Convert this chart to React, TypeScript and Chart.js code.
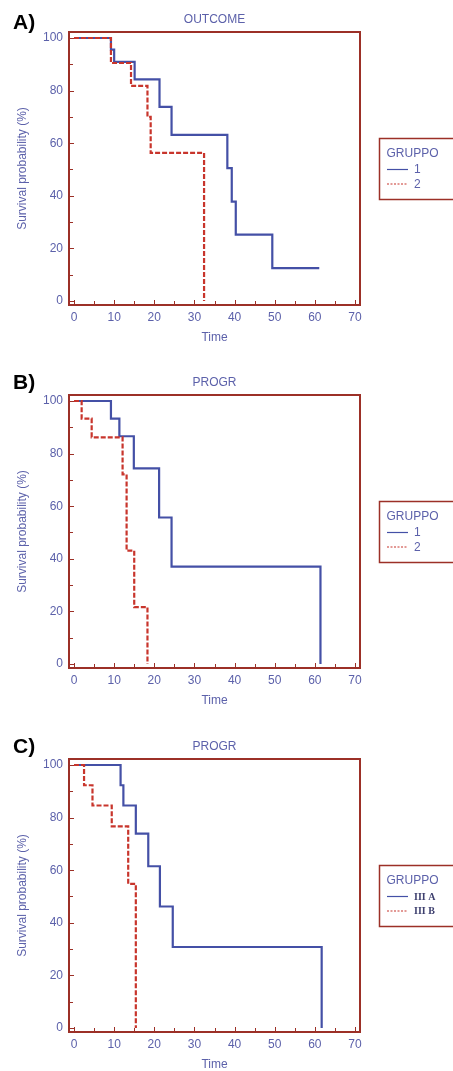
import React, { useEffect, useRef } from "react";
import { Chart, registerables } from "chart.js";

Chart.register(...registerables);

// ---------- data ----------
const panelLetters = ["A)", "B)", "C)"];
const panelTitles = ["OUTCOME", "PROGR", "PROGR"];
const legendTitle = "GRUPPO";
const legendLabelsAB = ["1", "2"];
const legendLabelsC = ["III A", "III B"];
const xAxisTitle = "Time";
const yAxisTitle = "Survival probability (%)";

const xTicks = [0, 10, 20, 30, 40, 50, 60, 70];
const xMinorTicks = [5, 15, 25, 35, 45, 55, 65];
const yTicks = [0, 20, 40, 60, 80, 100];
const yMinorTicks = [10, 30, 50, 70, 90];

// Panel A (OUTCOME)
const aTime1 = [0, 9.2, 10.0, 15.1, 21.3, 24.3, 38.2, 39.3, 40.3, 49.4, 61.1];
const aSurv1 = [100, 95.6, 90.9, 84.3, 73.8, 63.2, 50.5, 37.8, 25.2, 12.5, 12.5];
const aTime2 = [0, 9.2, 14.2, 18.3, 19.1, 32.4];
const aSurv2 = [100, 90.5, 81.8, 70.0, 56.3, 0];

// Panel B (PROGR, 1 vs 2)
const bTime1 = [0, 9.2, 11.3, 14.9, 21.2, 24.3, 61.4];
const bSurv1 = [100, 93.3, 86.6, 74.4, 55.7, 37.0, 0];
const bTime2 = [0, 1.9, 4.4, 12.1, 13.1, 15.0, 18.3];
const bSurv2 = [100, 93.3, 86.2, 72.1, 43.1, 21.6, 0];

// Panel C (PROGR, III A vs III B)
const cTime1 = [0, 11.6, 12.3, 15.4, 18.5, 21.4, 24.6, 61.7];
const cSurv1 = [100, 92.3, 84.6, 73.9, 61.5, 46.2, 30.8, 0];
const cTime2 = [0, 2.5, 4.6, 9.4, 13.5, 15.4];
const cSurv2 = [100, 92.3, 84.6, 76.7, 54.8, 0];

// ---------- styles ----------
const BLUE = "#4450a6";
const RED = "#c8352c";
const FRAME = "#9c3027";
const TEXT = "#5c61aa";
const SANS = "'Liberation Sans', Arial, sans-serif";
const SERIF = "'Liberation Serif', 'Times New Roman', serif";
const W = 453;
const H = 363;

type PanelProps = {
  top: number;
  letter: string;
  letterY: number;
  title: string;
  labels: string[];
  labelFont: string;
  labelColor: string;
  t1: number[];
  s1: number[];
  t2: number[];
  s2: number[];
};

function KMPanel(p: PanelProps) {
  const ref = useRef<HTMLCanvasElement | null>(null);

  useEffect(() => {
    const canvas = ref.current;
    if (!canvas) return;
    const toPts = (t: number[], s: number[]) => t.map((x, i) => ({ x, y: s[i] }));

    const decor = {
      id: "decor",
      afterDraw(chart: any) {
        const { ctx, chartArea: ca, scales } = chart;
        const xs = scales.x;
        const ys = scales.y;
        ctx.save();
        // inward tick marks
        ctx.strokeStyle = FRAME;
        ctx.lineWidth = 1;
        const xt = (v: number, len: number) => {
          const px = Math.round(xs.getPixelForValue(v)) + 0.5;
          ctx.beginPath();
          ctx.moveTo(px, ca.bottom);
          ctx.lineTo(px, ca.bottom - len);
          ctx.stroke();
        };
        const yt = (v: number, len: number) => {
          const py = Math.round(ys.getPixelForValue(v)) + 0.5;
          ctx.beginPath();
          ctx.moveTo(ca.left, py);
          ctx.lineTo(ca.left + len, py);
          ctx.stroke();
        };
        xTicks.forEach((v) => xt(v, 5));
        xMinorTicks.forEach((v) => xt(v, 4));
        yTicks.forEach((v) => yt(v, 5));
        yMinorTicks.forEach((v) => yt(v, 4));

        // frame
        ctx.lineWidth = 2;
        ctx.strokeStyle = FRAME;
        ctx.strokeRect(ca.left, ca.top, ca.right - ca.left, ca.bottom - ca.top);

        // panel letter
        ctx.fillStyle = "#000";
        ctx.font = `bold 21px ${SANS}`;
        ctx.textAlign = "left";
        ctx.textBaseline = "middle";
        ctx.fillText(p.letter, 13, p.letterY);

        // title
        ctx.fillStyle = TEXT;
        ctx.font = `12px ${SANS}`;
        ctx.textAlign = "center";
        ctx.fillText(p.title, (ca.left + ca.right) / 2, 20);

        // legend box
        ctx.lineWidth = 1.5;
        ctx.strokeStyle = FRAME;
        ctx.strokeRect(379.5, 138.5, 100, 61);
        ctx.textAlign = "left";
        ctx.fillStyle = TEXT;
        ctx.font = `12px ${SANS}`;
        ctx.fillText(legendTitle, 386.5, 153.5);
        const ds = chart.data.datasets;
        const rows = [169.5, 184];
        ds.forEach((d: any, i: number) => {
          ctx.beginPath();
          ctx.strokeStyle = d.borderColor;
          ctx.lineWidth = 1.2;
          ctx.setLineDash(d.borderDash ? [2, 1.5] : []);
          ctx.moveTo(387, rows[i]);
          ctx.lineTo(408, rows[i]);
          ctx.stroke();
          ctx.setLineDash([]);
          ctx.fillStyle = p.labelColor;
          ctx.font = p.labelFont;
          ctx.fillText(d.label, 414, rows[i] + 0.5);
        });
        ctx.restore();
      },
    };

    const tickFont = { family: SANS, size: 12 };
    const chart = new Chart(canvas, {
      type: "line",
      data: {
        datasets: [
          {
            label: p.labels[0],
            data: toPts(p.t1, p.s1),
            borderColor: BLUE,
            borderWidth: 2.2,
            stepped: true,
            pointRadius: 0,
            fill: false,
            order: 1,
          },
          {
            label: p.labels[1],
            data: toPts(p.t2, p.s2),
            borderColor: RED,
            borderWidth: 2.2,
            borderDash: [5, 2],
            stepped: true,
            pointRadius: 0,
            fill: false,
            order: 0,
          },
        ],
      },
      options: {
        animation: false,
        responsive: false,
        devicePixelRatio: 1,
        layout: { padding: { left: 0, right: 93, top: 32, bottom: 0 } },
        plugins: {
          legend: { display: false },
          title: { display: false },
          tooltip: { enabled: false },
        },
        scales: {
          x: {
            type: "linear",
            min: -1.25,
            max: 71.25,
            grid: { display: false, drawTicks: false, tickLength: 0 },
            border: { display: false },
            afterBuildTicks: (s: any) => {
              s.ticks = xTicks.map((v) => ({ value: v }));
            },
            afterFit: (s: any) => {
              s.height = 58;
            },
            ticks: {
              padding: 5.8,
              color: TEXT,
              font: tickFont,
              maxRotation: 0,
              autoSkip: false,
            },
            title: {
              display: true,
              text: xAxisTitle,
              color: TEXT,
              font: tickFont,
              padding: { top: 0, bottom: 17.8 },
            },
          },
          y: {
            type: "linear",
            min: -1.52,
            max: 102.28,
            grid: { display: false, drawTicks: false, tickLength: 0 },
            border: { display: false },
            afterBuildTicks: (s: any) => {
              s.ticks = yTicks.map((v) => ({ value: v }));
            },
            afterFit: (s: any) => {
              s.width = 69;
            },
            ticks: {
              padding: 6,
              color: TEXT,
              font: tickFont,
              autoSkip: false,
            },
            title: {
              display: true,
              text: yAxisTitle,
              color: TEXT,
              font: tickFont,
              padding: { top: 15, bottom: 0 },
            },
          },
        },
      } as any,
      plugins: [decor],
    });
    return () => chart.destroy();
  }, []);

  return (
    <canvas
      ref={ref}
      width={W}
      height={H}
      style={{ position: "absolute", left: 0, top: p.top, width: W, height: H }}
    />
  );
}

export default function App() {
  return (
    <div
      style={{
        position: "absolute",
        left: 0,
        top: 0,
        width: W,
        height: 1071,
        overflow: "hidden",
        background: "#fff",
      }}
    >
      <KMPanel
        top={0}
        letter={panelLetters[0]}
        letterY={23}
        title={panelTitles[0]}
        labels={legendLabelsAB}
        labelFont={`12px ${SANS}`}
        labelColor={TEXT}
        t1={aTime1}
        s1={aSurv1}
        t2={aTime2}
        s2={aSurv2}
      />
      <KMPanel
        top={363}
        letter={panelLetters[1]}
        letterY={20}
        title={panelTitles[1]}
        labels={legendLabelsAB}
        labelFont={`12px ${SANS}`}
        labelColor={TEXT}
        t1={bTime1}
        s1={bSurv1}
        t2={bTime2}
        s2={bSurv2}
      />
      <KMPanel
        top={727}
        letter={panelLetters[2]}
        letterY={20}
        title={panelTitles[2]}
        labels={legendLabelsC}
        labelFont={`bold 10px ${SERIF}`}
        labelColor="#3d3f6e"
        t1={cTime1}
        s1={cSurv1}
        t2={cTime2}
        s2={cSurv2}
      />
    </div>
  );
}
